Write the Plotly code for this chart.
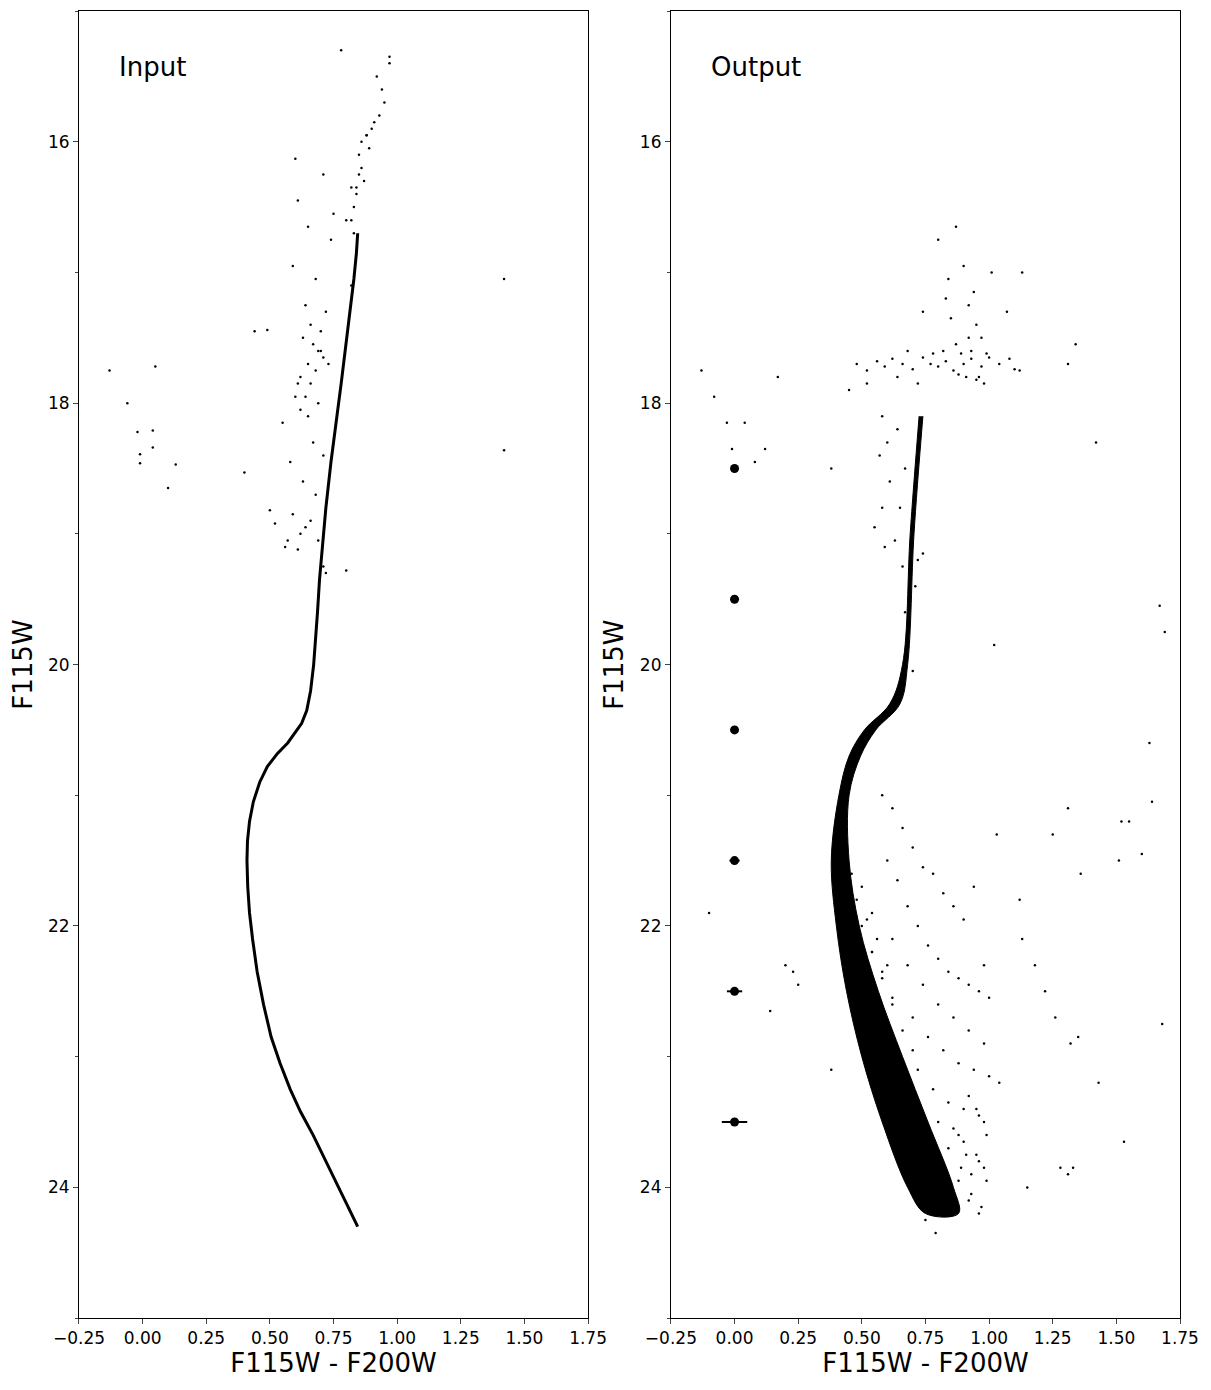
import plotly.graph_objects as go

# Input panel: isochrone ridge (color, magnitude)
iso_color = [0.845, 0.84, 0.83, 0.815, 0.80, 0.78, 0.76, 0.74, 0.72, 0.705, 0.695, 0.687, 0.68,
             0.672, 0.66, 0.645, 0.625, 0.60, 0.57, 0.53, 0.49, 0.46, 0.435, 0.42, 0.412, 0.41,
             0.413, 0.42, 0.432, 0.45, 0.475, 0.505, 0.54, 0.58, 0.62, 0.67, 0.72, 0.77, 0.81, 0.845]
iso_mag = [16.7, 16.85, 17.05, 17.3, 17.55, 17.85, 18.15, 18.45, 18.8, 19.1, 19.35, 19.6, 19.8,
           20.0, 20.2, 20.35, 20.45, 20.52, 20.6, 20.68, 20.78, 20.9, 21.05, 21.2, 21.35, 21.5,
           21.7, 21.9, 22.1, 22.35, 22.6, 22.85, 23.05, 23.25, 23.42, 23.6, 23.8, 24.0, 24.15, 24.3]

in_color = [0.78, 0.97, 0.97, 0.92, 0.94, 0.95, 0.93, 0.90, 0.88, 0.86, 0.85, 0.87, 0.84, 0.83,
            0.60, 0.61, 0.65, 0.71, 0.75, 0.82, 0.80, 0.74, 0.59, 0.82, 0.68, 0.64, 0.72, 0.66,
            0.70, 0.63, 0.67, 0.69, 0.71, 0.65, 0.68, 0.62, 0.66, 0.70, 0.73, 0.64, 0.61, 0.69,
            0.44, 0.49, 0.55, 0.60, 0.62, 0.65, 0.67, 0.71, 0.58, 0.63, 0.68, 0.59, 0.66, 0.62,
            0.57, 0.52, 0.50, 0.56, 0.61, 0.64, 0.69, 0.80, 0.71, 0.72, 0.40,
            -0.13, 0.05, -0.06, -0.02, 0.04, -0.01, 0.04, -0.01, 0.13, 0.10, 1.42, 1.42,
            0.86, 0.84, 0.85, 0.83, 0.82, 0.88, 0.89, 0.91]
in_mag = [15.3, 15.35, 15.4, 15.5, 15.6, 15.7, 15.8, 15.9, 15.95, 16.0, 16.1, 16.3, 16.35, 16.7,
          16.13, 16.45, 16.65, 16.25, 16.55, 16.35, 16.6, 16.75, 16.95, 17.1, 17.05, 17.25, 17.3, 17.4,
          17.45, 17.5, 17.55, 17.6, 17.65, 17.7, 17.75, 17.8, 17.85, 17.6, 17.7, 17.95, 17.85, 18.0,
          17.45, 17.44, 18.15, 17.95, 18.05, 18.1, 18.3, 18.4, 18.45, 18.6, 18.7, 18.85, 18.9, 19.0,
          19.05, 18.92, 18.82, 19.1, 19.12, 18.95, 19.05, 19.28, 19.25, 19.3, 18.53,
          17.75, 17.72, 18.0, 18.22, 18.21, 18.39, 18.34, 18.46, 18.47, 18.65, 17.05, 18.36,
          16.2, 16.4, 16.25, 16.5, 16.6, 15.95, 16.05, 15.85]

# Output panel: dense sequence outline (edges by magnitude)
band_mag = [18.1, 19.0, 20.0, 20.3, 20.5, 20.7, 21.0, 21.5, 22.0, 22.5, 23.0, 23.5, 24.0, 24.2]
band_left = [0.725, 0.69, 0.66, 0.61, 0.51, 0.45, 0.41, 0.38, 0.40, 0.44, 0.50, 0.58, 0.68, 0.75]
band_right = [0.74, 0.705, 0.68, 0.65, 0.555, 0.495, 0.45, 0.45, 0.49, 0.565, 0.66, 0.76, 0.86, 0.88]

out_color = [0.87, 0.80, 0.90, 0.94, 0.74, 0.97, 0.84, 0.83, 0.85, 0.92, 0.95, 1.01, 1.07, 1.13,
             0.48, 0.52, 0.56, 0.59, 0.62, 0.66, 0.70, 0.74, 0.77, 0.80, 0.83, 0.86, 0.90, 0.93,
             0.97, 1.00, 1.04, 1.08, 1.10, 0.64, 0.68, 0.72, 0.78, 0.88, 0.95, 1.31, 1.34, 0.82,
             0.87, 0.89, 0.91, 0.93, 0.96, 1.12, 0.92, 0.98, 0.99,
             0.52, 0.45, 0.58, 0.60, 0.64, 0.67, 0.57, 0.61, 0.65, 0.70, 0.55, 0.63, 0.59, 0.66,
             0.72, 0.74, 0.71, 0.67, 0.70, 0.58,
             -0.13, -0.08, -0.03, -0.01, 0.04, 0.08, 0.12, 0.17, 0.38, 0.20, -0.10, 0.23, 0.25,
             0.14, 0.38, 1.42, 1.02, 1.67, 1.69, 1.63, 1.64, 1.52, 1.55, 1.60, 1.25, 1.31, 1.51,
             1.36, 1.13, 1.03, 1.12, 0.98, 1.18, 1.22, 1.26, 1.32, 1.35, 1.43, 1.53, 1.68,
             1.28, 1.31, 1.33, 1.15,
             0.58, 0.62, 0.66, 0.70, 0.74, 0.78, 0.82, 0.86, 0.90, 0.94, 0.60, 0.64, 0.68, 0.72,
             0.76, 0.80, 0.84, 0.88, 0.92, 0.96, 1.00, 0.62, 0.68, 0.74, 0.80, 0.86, 0.92, 0.98,
             0.70, 0.76, 0.82, 0.88, 0.94, 1.00, 1.04, 0.72, 0.78, 0.84, 0.90, 0.96, 0.54, 0.58,
             0.62, 0.66, 0.70, 0.50, 0.54, 0.58, 0.62, 0.48, 0.52, 0.56, 0.60, 0.46, 0.50, 0.54,
             0.80, 0.86, 0.84, 0.90, 0.95, 0.82, 0.88, 0.93, 0.98, 0.76, 0.84, 0.92, 0.96, 0.99,
             0.92, 0.95, 0.98, 0.88, 0.91, 0.99, 0.96, 0.89, 0.85, 0.97, 0.93, 0.79, 0.75]
out_mag = [16.65, 16.75, 16.95, 17.15, 17.3, 17.5, 17.05, 17.2, 17.35, 17.25, 17.4, 17.0, 17.3, 17.0,
           17.7, 17.75, 17.68, 17.72, 17.66, 17.7, 17.74, 17.65, 17.7, 17.72, 17.68, 17.75, 17.7, 17.66,
           17.72, 17.65, 17.7, 17.66, 17.74, 17.8, 17.6, 17.85, 17.62, 17.78, 17.82, 17.7, 17.55, 17.6,
           17.55, 17.62, 17.8, 17.6, 17.8, 17.75, 17.5, 17.85, 17.62,
           17.85, 17.9, 18.1, 18.3, 18.2, 18.5, 18.4, 18.6, 18.8, 18.9, 18.95, 19.05, 19.1, 19.25,
           19.2, 19.15, 19.4, 19.6, 20.05, 18.8,
           17.75, 17.95, 18.15, 18.35, 18.15, 18.45, 18.35, 17.8, 18.5, 22.3, 21.9, 22.35, 22.45,
           22.65, 23.1, 18.3, 19.85, 19.55, 19.75, 20.6, 21.05, 21.2, 21.2, 21.45, 21.3, 21.1, 21.5,
           21.6, 22.1, 21.3, 21.8, 22.3, 22.3, 22.5, 22.7, 22.9, 22.85, 23.2, 23.65, 22.75,
           23.85, 23.9, 23.85, 24.0,
           21.0, 21.1, 21.25, 21.4, 21.55, 21.6, 21.75, 21.85, 21.95, 21.7, 21.5, 21.65, 21.85, 22.0,
           22.15, 22.25, 22.35, 22.4, 22.45, 22.5, 22.55, 22.1, 22.3, 22.45, 22.6, 22.7, 22.8, 22.9,
           22.7, 22.85, 22.95, 23.05, 23.1, 23.15, 23.2, 23.1, 23.25, 23.35, 23.4, 23.45, 22.2, 22.4,
           22.6, 22.8, 22.95, 22.0, 22.2, 22.35, 22.55, 21.8, 21.95, 22.1, 22.3, 21.6, 21.7, 21.9,
           23.5, 23.55, 23.7, 23.65, 23.75, 23.9, 23.95, 23.9, 23.85, 23.6, 24.05, 24.1, 24.2, 23.95,
           23.3, 23.4, 23.5, 23.6, 23.75, 23.6, 23.8, 23.85, 24.2, 24.15, 24.05, 24.35, 24.25]

err_mag = [18.5, 19.5, 20.5, 21.5, 22.5, 23.5]
err_color = [0.0, 0.0, 0.0, 0.0, 0.0, 0.0]
err_size = [0.005, 0.008, 0.012, 0.02, 0.03, 0.05]

fig = go.Figure()
dot = dict(color='black', size=2.5)
fig.add_trace(go.Scatter(x=iso_color, y=iso_mag, mode='lines', line=dict(color='black', width=3),
                         xaxis='x', yaxis='y'))
fig.add_trace(go.Scatter(x=in_color, y=in_mag, mode='markers', marker=dot, xaxis='x', yaxis='y'))
fig.add_trace(go.Scatter(x=band_left + band_right[::-1], y=band_mag + band_mag[::-1], fill='toself',
                         fillcolor='black', mode='lines', line=dict(color='black', width=1, shape='spline'),
                         xaxis='x2', yaxis='y2'))
fig.add_trace(go.Scatter(x=out_color, y=out_mag, mode='markers', marker=dot, xaxis='x2', yaxis='y2'))
fig.add_trace(go.Scatter(x=err_color, y=err_mag, mode='markers', marker=dict(color='black', size=9),
                         error_x=dict(type='data', array=err_size, color='black', thickness=2, width=0),
                         xaxis='x2', yaxis='y2'))

font = 'DejaVu Sans'
xax = dict(range=[-0.25, 1.75], tickvals=[-0.25, 0, 0.25, 0.5, 0.75, 1.0, 1.25, 1.5, 1.75],
           ticktext=['\u22120.25', '0.00', '0.25', '0.50', '0.75', '1.00', '1.25', '1.50', '1.75'],
           ticks='outside', ticklen=5, showline=True, linecolor='black', mirror=True, showgrid=False,
           zeroline=False, tickfont=dict(size=17), automargin=False,
           title=dict(text='F115W - F200W', font=dict(size=26), standoff=4))
yax = dict(range=[25, 15], tickvals=[16, 18, 20, 22, 24], ticks='outside', ticklen=5, showline=True,
           linecolor='black', mirror=True, showgrid=False, zeroline=False, tickfont=dict(size=17),
           minor=dict(tickvals=[15, 17, 19, 21, 23, 25], ticks='outside', ticklen=3), automargin=False,
           title=dict(text='F115W', font=dict(size=26), standoff=8))
fig.update_layout(
    width=1211, height=1390, showlegend=False, plot_bgcolor='white', paper_bgcolor='white',
    margin=dict(l=0, r=0, t=0, b=0), font=dict(family=font, color='black'),
    xaxis=dict(xax, domain=[0.0586, 0.4790], anchor='y'),
    yaxis=dict(yax, domain=[0.0575, 0.9978], anchor='x'),
    xaxis2=dict(xax, domain=[0.5474, 0.9678], anchor='y2'),
    yaxis2=dict(yax, domain=[0.0575, 0.9978], anchor='x2'),
    annotations=[
        dict(text='Input', x=0.075, y=0.957, xref='x domain', yref='y domain', showarrow=False,
             xanchor='left', yanchor='middle', font=dict(size=26)),
        dict(text='Output', x=0.075, y=0.957, xref='x2 domain', yref='y2 domain', showarrow=False,
             xanchor='left', yanchor='middle', font=dict(size=26)),
    ],
)
fig.write_html("out.html")
